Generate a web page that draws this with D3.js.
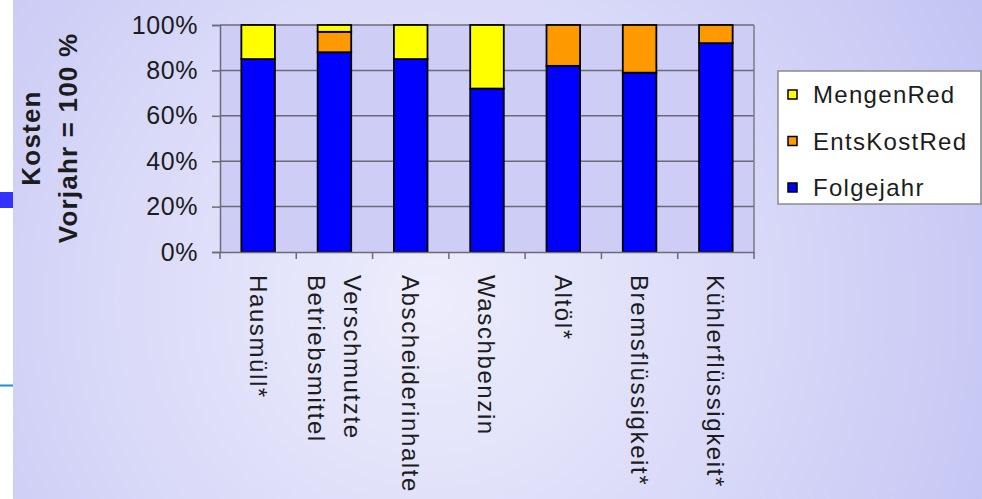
<!DOCTYPE html>
<html>
<head>
<meta charset="utf-8">
<script src="https://cdn.jsdelivr.net/npm/d3@7"></script>
<style>
  html, body { margin: 0; padding: 0; background: #ffffff; }
  svg { display: block; }
  text { font-family: "Liberation Sans", Arial, sans-serif; fill: #1c1c1c; }
</style>
</head>
<body>
<svg id="chart" width="982" height="499"></svg>
<script>
// Waste categories (line breaks mark two-line labels)
const categories = [
  "Hausmüll*",
  "Verschmutzte\nBetriebsmittel",
  "Abscheiderinhalte",
  "Waschbenzin",
  "Altöl*",
  "Bremsflüssigkeit*",
  "Kühlerflüssigkeit*"
];

// Cost shares, previous year = 100 %
const folgejahr   = [85, 88, 85, 72, 82, 79, 92];
const entsKostRed = [ 0,  9,  0,  0, 18, 21,  8];
const mengenRed   = [15,  3, 15, 28,  0,  0,  0];

const seriesNames = ["Folgejahr", "EntsKostRed", "MengenRed"];
const seriesColors = ["#0000ff", "#ff9900", "#ffff00"];
const yTicks = [0, 20, 40, 60, 80, 100];

const svg = d3.select("#chart");
const W = 982, H = 499;

// Background gradient
const defs = svg.append("defs");
const bg = defs.append("radialGradient")
  .attr("id", "bg").attr("gradientUnits", "userSpaceOnUse")
  .attr("cx", 430).attr("cy", 300).attr("r", 620);
bg.append("stop").attr("offset", "0%").attr("stop-color", "#ededfc");
bg.append("stop").attr("offset", "45%").attr("stop-color", "#dcdcf9");
bg.append("stop").attr("offset", "100%").attr("stop-color", "#c4c4f4");

svg.append("rect").attr("x", 0).attr("y", 0).attr("width", W).attr("height", H)
  .attr("fill", "url(#bg)");

// Slide margin strip on the left
svg.append("rect").attr("x", 0).attr("y", 0).attr("width", 13).attr("height", H).attr("fill", "#ffffff");
svg.append("rect").attr("x", 0).attr("y", 192).attr("width", 13).attr("height", 16).attr("fill", "#3333ff");
svg.append("rect").attr("x", 0).attr("y", 384.5).attr("width", 13).attr("height", 2).attr("fill", "#1b8fd8");

// Plot area
const plotL = 220, plotR = 754, plotT = 25, plotB = 252;

const x = d3.scaleBand().domain(categories).range([plotL, plotR])
  .paddingInner(0.56).paddingOuter(0.28);
const y = d3.scaleLinear().domain([0, 100]).range([plotB, plotT]);

svg.append("rect").attr("x", plotL).attr("y", plotT)
  .attr("width", plotR - plotL).attr("height", plotB - plotT)
  .attr("fill", "#cdcdf5");

// Gridlines
svg.append("g").selectAll("line").data(yTicks.filter(d => d > 0)).join("line")
  .attr("x1", plotL).attr("x2", plotR)
  .attr("y1", d => y(d)).attr("y2", d => y(d))
  .attr("stroke", "#6b6b78").attr("stroke-width", 1.5);

// Right border of the plot area
svg.append("line").attr("x1", plotR).attr("x2", plotR).attr("y1", plotT).attr("y2", plotB)
  .attr("stroke", "#7a7a88").attr("stroke-width", 1.5);

// Stacked bars
const rows = categories.map((c, i) => ({
  cat: c, Folgejahr: folgejahr[i], EntsKostRed: entsKostRed[i], MengenRed: mengenRed[i]
}));
const stacked = d3.stack().keys(seriesNames)(rows);

svg.append("g").selectAll("g").data(stacked).join("g")
  .attr("fill", (d, i) => seriesColors[i])
  .selectAll("rect").data(d => d.filter(s => s[1] - s[0] > 0)).join("rect")
  .attr("x", d => x(d.data.cat))
  .attr("width", x.bandwidth())
  .attr("y", d => y(d[1]))
  .attr("height", d => y(d[0]) - y(d[1]))
  .attr("stroke", "#000").attr("stroke-width", 1.8);

// Y axis
const yAxis = svg.append("g").attr("transform", `translate(${plotL},0)`)
  .call(d3.axisLeft(y).tickValues(yTicks).tickFormat(d => d + "%").tickSize(8).tickPadding(14));
yAxis.select(".domain").attr("stroke", "#6b6b78").attr("stroke-width", 1.5);
yAxis.selectAll(".tick line").attr("stroke", "#6b6b78").attr("stroke-width", 1.5);
yAxis.selectAll(".tick text")
  .style("font-size", "25px").style("letter-spacing", "0.6px")
  .attr("fill", "#1c1c1c");
yAxis.attr("font-family", null).attr("font-size", null);

// X axis with ticks on category boundaries
const xAxis = svg.append("g").attr("transform", `translate(0,${plotB})`)
  .call(d3.axisBottom(x).tickSize(0).tickFormat(""));
xAxis.select(".domain").attr("stroke", "#6b6b78").attr("stroke-width", 1.5);
const gap = (x.step() - x.bandwidth()) / 2;
const bounds = categories.map(c => x(c) - gap).concat([x(categories[categories.length - 1]) + x.bandwidth() + gap]);
xAxis.selectAll(".bound").data(bounds).join("line").attr("class", "bound")
  .attr("x1", d => d).attr("x2", d => d).attr("y1", 0).attr("y2", 7)
  .attr("stroke", "#6b6b78").attr("stroke-width", 1.5);

// Rotated category labels
const lineH = 36;
const labels = svg.append("g").selectAll("text").data(categories).join("text")
  .attr("transform", d => `translate(${x(d) + x.bandwidth() / 2},275) rotate(90)`)
  .style("font-size", "24px").style("letter-spacing", "1.6px");
labels.each(function (d) {
  const lines = d.split("\n");
  const t = d3.select(this);
  lines.forEach((ln, k) => {
    t.append("tspan").attr("x", 0)
      .attr("y", 8.6 + (k - (lines.length - 1) / 2) * lineH)
      .text(ln);
  });
});

// Y axis title
const title = svg.append("text")
  .attr("transform", "translate(0,138) rotate(-90)")
  .attr("text-anchor", "middle")
  .style("font-size", "26px").style("font-weight", "bold").style("letter-spacing", "1.2px");
title.append("tspan").attr("x", 0).attr("y", 40).text("Kosten");
title.append("tspan").attr("x", 0).attr("y", 77).text("Vorjahr = 100 %");

// Legend
const legend = svg.append("g");
legend.append("rect").attr("x", 778).attr("y", 71).attr("width", 203).attr("height", 133)
  .attr("fill", "#ffffff").attr("stroke", "#8a8a8a").attr("stroke-width", 1.5);
const legendOrder = [2, 1, 0];
const li = legend.selectAll("g.item").data(legendOrder).join("g").attr("class", "item")
  .attr("transform", (d, k) => `translate(788,${103 + k * 46.5})`);
li.append("rect").attr("x", 0).attr("y", -13).attr("width", 9).attr("height", 9)
  .attr("fill", d => seriesColors[d]).attr("stroke", "#000").attr("stroke-width", 1.5);
li.append("text").attr("x", 25).attr("y", 0)
  .style("font-size", "24px").style("letter-spacing", "1.3px")
  .text(d => seriesNames[d]);
</script>
</body>
</html>
